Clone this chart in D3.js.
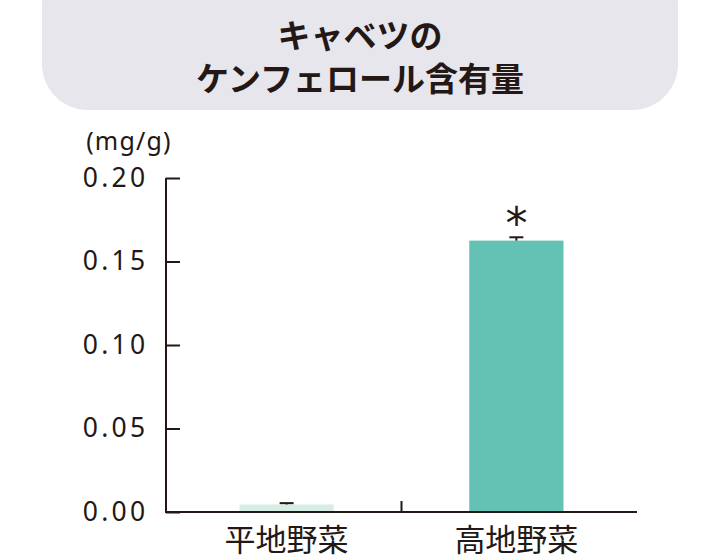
<!DOCTYPE html>
<html><head><meta charset="utf-8">
<script src="https://cdn.jsdelivr.net/npm/d3@7"></script>
<style>body{margin:0;background:#fff}svg{display:block}</style>
</head><body>
<svg id="c" width="720" height="560"></svg>
<script>
const categories = ["平地野菜", "高地野菜"];
const values = [0.0045, 0.1625];
const errors = [0.0008, 0.002];
const significance = ["", "*"];
const yTicks = [0, 0.05, 0.10, 0.15, 0.20];
const titleLines = ["キャベツの", "ケンフェロール含有量"];
const unitLabel = "(mg/g)";
const colors = ["#d6ede4", "#63c2b3"];

const svg = d3.select("#c");
const ink = "#231815";
const font = "'Noto Sans CJK JP','Noto Sans',sans-serif";

// title box
svg.append("rect").attr("x", 42).attr("y", -40).attr("width", 636).attr("height", 150)
  .attr("rx", 46).attr("fill", "#e6e6ec");
const title = svg.append("text").attr("text-anchor", "middle")
  .attr("font-family", font).attr("font-weight", "bold").attr("font-size", 33).attr("fill", ink);
titleLines.forEach((t, i) => {
  title.append("tspan").attr("x", 360).attr("y", 48 + i * 43).text(t);
});

const x0 = 166, x1 = 637, yTop = 178, yBot = 512;
const y = d3.scaleLinear().domain([0, 0.20]).range([yBot, yTop]);
const x = d3.scaleBand().domain(categories).range([x0, x1]).paddingInner(0.59).paddingOuter(0.32);

// bars
const g = svg.append("g");
g.selectAll("rect.bar").data(categories).join("rect")
  .attr("x", d => x(d)).attr("width", x.bandwidth())
  .attr("y", (d, i) => y(values[i])).attr("height", (d, i) => yBot - y(values[i]))
  .attr("fill", (d, i) => colors[i]);

// error bars
categories.forEach((c, i) => {
  const cx = x(c) + x.bandwidth() / 2;
  const top = y(values[i] + errors[i]);
  g.append("line").attr("x1", cx).attr("x2", cx).attr("y1", y(values[i])).attr("y2", top)
    .attr("stroke", ink).attr("stroke-width", 2);
  g.append("line").attr("x1", cx - 7).attr("x2", cx + 7).attr("y1", top).attr("y2", top)
    .attr("stroke", ink).attr("stroke-width", 2);
  if (significance[i]) {
    g.append("text").attr("x", cx).attr("y", top + 2).attr("text-anchor", "middle")
      .attr("font-family", "'DejaVu Sans',sans-serif").attr("font-size", 44).attr("fill", ink)
      .text(significance[i]);
  }
});

// y axis
const yAxis = d3.axisLeft(y).tickValues(yTicks).tickFormat(d3.format(".2f")).tickSize(-14).tickPadding(20);
const ya = svg.append("g").attr("transform", `translate(${x0},0)`).call(yAxis);
ya.select(".domain").attr("stroke", ink).attr("stroke-width", 2).attr("d", `M0,${yTop}V${yBot}`);
ya.selectAll(".tick line").attr("stroke", ink).attr("stroke-width", 2);
ya.selectAll(".tick text").attr("font-family", "'Noto Sans','Liberation Sans',sans-serif")
  .attr("font-size", 26.5).attr("letter-spacing", 3.3).attr("fill", ink).attr("x", -17.5);

// x axis
const xa = svg.append("g").attr("transform", `translate(0,${yBot})`);
xa.append("line").attr("x1", x0 - 1).attr("x2", x1).attr("stroke", ink).attr("stroke-width", 2.2);
const mid = (x(categories[0]) + x.bandwidth() + x(categories[1])) / 2;
xa.append("line").attr("x1", mid).attr("x2", mid).attr("y1", 0).attr("y2", -11)
  .attr("stroke", ink).attr("stroke-width", 2);
xa.selectAll("text").data(categories).join("text")
  .attr("x", d => x(d) + x.bandwidth() / 2).attr("y", 39).attr("text-anchor", "middle")
  .attr("font-family", font).attr("font-size", 31).attr("fill", ink).text(d => d);

// unit
svg.append("text").attr("x", 129).attr("y", 150).attr("text-anchor", "middle")
  .attr("font-family", "'Noto Sans',sans-serif").attr("font-size", 25).attr("letter-spacing", 1.2)
  .attr("fill", ink).text(unitLabel);
</script>
</body></html>
